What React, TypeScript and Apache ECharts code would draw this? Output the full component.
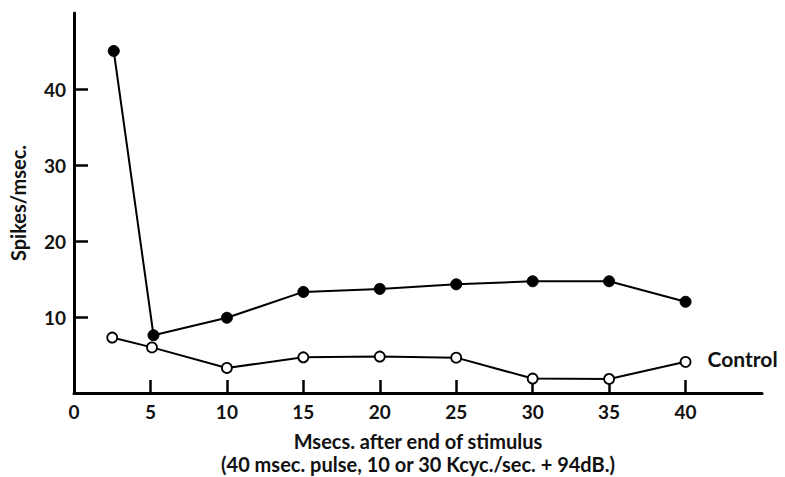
import React, { useEffect, useRef } from "react";
import * as echarts from "echarts";

const stimX = [2.6, 5.2, 10, 15, 20, 25, 30, 35, 40];
const stimY = [45.0, 7.6, 9.9, 13.3, 13.7, 14.3, 14.7, 14.7, 12.0];
const ctrlX = [2.5, 5.1, 10, 15, 20, 25, 30, 35, 40];
const ctrlY = [7.3, 6.0, 3.3, 4.7, 4.8, 4.65, 1.9, 1.85, 4.1];
const xTicks = [0, 5, 10, 15, 20, 25, 30, 35, 40];
const yTicks = [10, 20, 30, 40];
const xName = "Msecs. after end of stimulus\n(40 msec. pulse, 10 or 30 Kcyc./sec. + 94dB.)";
const yName = "Spikes/msec.";
const ctrlLabel = "Control";

const FONT = "Lato";

export default function App() {
  const ref = useRef<HTMLDivElement>(null);
  useEffect(() => {
    if (!ref.current) return;
    const chart = echarts.init(ref.current, undefined, { renderer: "svg" });
    chart.setOption({
      animation: false,
      backgroundColor: "#ffffff",
      grid: { left: 74, right: 23, top: 13, bottom: 84, containLabel: false, outerBoundsMode: "none" },
      xAxis: {
        type: "value",
        min: 0,
        max: 45,
        interval: 5,
        name: xName,
        nameLocation: "middle",
        nameGap: 36,
        nameTextStyle: { fontFamily: FONT, fontWeight: "bold", fontSize: 20, color: "#111", lineHeight: 23 },
        axisLine: { show: true, lineStyle: { color: "#000", width: 3 } },
        axisTick: {
          show: true,
          inside: true,
          length: 13,
          lineStyle: { color: "#000", width: 2.5 },
          customValues: xTicks.filter((v) => v > 0),
        },
        axisLabel: {
          fontFamily: FONT,
          fontWeight: "bold",
          fontSize: 19,
          color: "#111",
          margin: 9,
          customValues: xTicks,
        },
        splitLine: { show: false },
      },
      yAxis: {
        type: "value",
        min: 0,
        max: 50,
        interval: 10,
        name: yName,
        nameLocation: "middle",
        nameGap: 46,
        nameTextStyle: { fontFamily: FONT, fontWeight: "bold", fontSize: 20, color: "#111" },
        axisLine: { show: true, onZero: false, lineStyle: { color: "#000", width: 3 } },
        axisTick: {
          show: true,
          inside: true,
          length: 14,
          lineStyle: { color: "#000", width: 2.5 },
          customValues: yTicks,
        },
        axisLabel: {
          fontFamily: FONT,
          fontWeight: "bold",
          fontSize: 19,
          color: "#111",
          margin: 8,
          customValues: yTicks,
        },
        splitLine: { show: false },
      },
      series: [
        {
          type: "line",
          data: stimX.map((x, i) => [x, stimY[i]]),
          symbol: "circle",
          symbolSize: 11,
          itemStyle: { color: "#000", borderColor: "#000", borderWidth: 1 },
          lineStyle: { color: "#000", width: 2 },
          z: 3,
        },
        {
          type: "line",
          data: ctrlX.map((x, i) => [x, ctrlY[i]]),
          symbol: "circle",
          symbolSize: 10,
          itemStyle: { color: "#fff", borderColor: "#000", borderWidth: 1.8 },
          lineStyle: { color: "#000", width: 2 },
          endLabel: {
            show: true,
            formatter: ctrlLabel,
            distance: 22,
            offset: [0, -3],
            fontFamily: FONT,
            fontWeight: "bold",
            fontSize: 21,
            color: "#111",
          },
          z: 3,
        },
      ],
    });
    return () => chart.dispose();
  }, []);
  return <div ref={ref} style={{ width: 785, height: 477, position: "absolute", left: 0, top: 0 }} />;
}
